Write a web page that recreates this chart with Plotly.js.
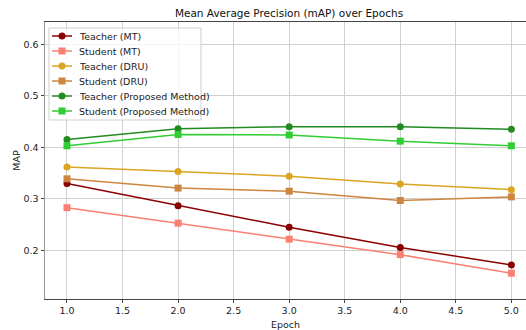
<!DOCTYPE html>
<html>
<head>
<meta charset="utf-8">
<script src="https://cdn.plot.ly/plotly-3.0.1.min.js"></script>
<style>html,body{margin:0;padding:0;background:#fff;overflow:hidden}</style>
</head>
<body>
<div id="chart" style="width:526px;height:330px"></div>
<script>
const epochs = [1, 2, 3, 4, 5];
const teacherMT = [0.330, 0.287, 0.245, 0.206, 0.172];
const studentMT = [0.283, 0.253, 0.222, 0.192, 0.156];
const teacherDRU = [0.362, 0.353, 0.344, 0.329, 0.318];
const studentDRU = [0.339, 0.321, 0.315, 0.297, 0.304];
const teacherProp = [0.415, 0.436, 0.440, 0.440, 0.435];
const studentProp = [0.403, 0.425, 0.424, 0.412, 0.403];

const seriesNames = ['Teacher (MT)', 'Student (MT)', 'Teacher (DRU)', 'Student (DRU)', 'Teacher (Proposed Method)', 'Student (Proposed Method)'];
const seriesData = [teacherMT, studentMT, teacherDRU, studentDRU, teacherProp, studentProp];
const colors = ['#8B0000', '#FA8072', '#DAA520', '#CD853F', '#228B22', '#32CD32'];
const symbols = ['circle', 'square', 'circle', 'square', 'circle', 'square'];

const traces = seriesData.map((d, i) => ({
  x: epochs, y: d, name: seriesNames[i], type: 'scatter', mode: 'lines+markers',
  line: {color: colors[i], width: 1.5},
  marker: {color: colors[i], symbol: symbols[i], size: 7}
}));

// plot area in pixels
const L = 45, R = 526, T = 22, B = 299;
const px = v => (v - L) / (R - L);
const py = v => (B - v) / (B - T);

// compact matplotlib-style legend drawn with shapes + annotations
const shapes = [{
  type: 'rect', xref: 'paper', yref: 'paper', layer: 'above',
  x0: px(49), x1: px(201), y0: py(28), y1: py(120),
  fillcolor: 'rgba(255,255,255,0.8)', line: {color: '#cfcfcf', width: 1}
}];
const annotations = [];
seriesNames.forEach((n, i) => {
  const yy = py(36 + 15 * i);
  shapes.push({type: 'line', xref: 'paper', yref: 'paper', layer: 'above',
    x0: px(52), x1: px(72), y0: yy, y1: yy, line: {color: colors[i], width: 1.5}});
  shapes.push({type: symbols[i] === 'circle' ? 'circle' : 'rect', xref: 'paper', yref: 'paper', layer: 'above',
    xsizemode: 'pixel', ysizemode: 'pixel', xanchor: px(62), yanchor: yy,
    x0: -3.5, x1: 3.5, y0: -3.5, y1: 3.5,
    fillcolor: colors[i], line: {color: colors[i], width: 0}});
  annotations.push({xref: 'paper', yref: 'paper', x: px(77), y: yy, xanchor: 'left', yanchor: 'middle',
    text: n, showarrow: false, font: {size: 9.5, color: '#222'}});
});

const layout = {
  width: 526, height: 330,
  margin: {l: L, r: 526 - R, t: T, b: 330 - B},
  paper_bgcolor: '#fff', plot_bgcolor: '#fff',
  font: {family: 'DejaVu Sans', size: 9.5, color: '#222'},
  title: {text: 'Mean Average Precision (mAP) over Epochs', font: {size: 10.5, color: '#111'}, x: 289/526, xanchor: 'center', y: 0.96, yanchor: 'middle'},
  xaxis: {
    range: [0.802, 5.132], dtick: 0.5, tick0: 1, tickformat: '.1f',
    showgrid: true, gridcolor: '#d0d0d0', gridwidth: 1,
    showline: true, linecolor: '#444', linewidth: 1, mirror: true,
    ticks: 'outside', ticklen: 3, tickcolor: '#444', zeroline: false,
    title: {text: 'Epoch', font: {size: 9.5}, standoff: 5}
  },
  yaxis: {
    range: [0.106, 0.643], dtick: 0.1, tick0: 0.2, tickformat: '.1f',
    showgrid: true, gridcolor: '#d0d0d0', gridwidth: 1,
    showline: true, linecolor: '#999', linewidth: 1.5,
    ticks: 'outside', ticklen: 3, tickcolor: '#444', zeroline: false,
    title: {text: 'MAP', font: {size: 9.5}, standoff: 1}
  },
  showlegend: false,
  shapes: shapes,
  annotations: annotations
};

Plotly.newPlot('chart', traces, layout, {displayModeBar: false, staticPlot: true});
</script>
</body>
</html>
